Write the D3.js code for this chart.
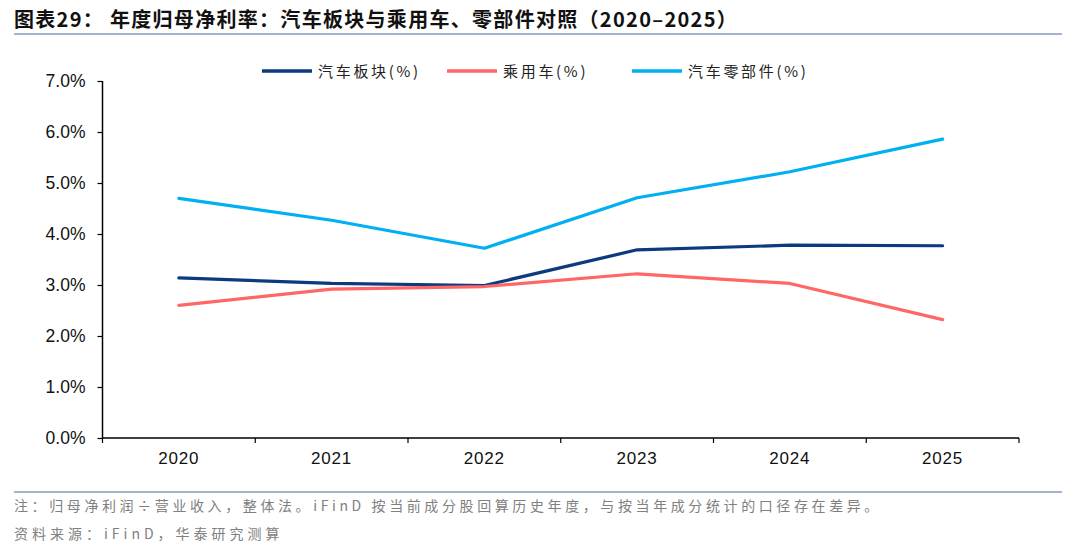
<!DOCTYPE html>
<html>
<head>
<meta charset="utf-8">
<script src="https://cdn.jsdelivr.net/npm/d3@7"></script>
<style>
  body { margin: 0; background: #fff; }
  svg { display: block; }
</style>
</head>
<body>
<div id="chart"></div>
<script>
// data
const years = ["2020", "2021", "2022", "2023", "2024", "2025"];
const autoSector = [3.14, 3.03, 2.99, 3.69, 3.78, 3.77];
const passengerCar = [2.60, 2.92, 2.97, 3.22, 3.03, 2.32];
const autoParts = [4.70, 4.27, 3.72, 4.71, 5.22, 5.86];
const yTicks = [0, 1, 2, 3, 4, 5, 6, 7];

const seriesNames = ["汽车板块(%)", "乘用车(%)", "汽车零部件(%)"];
const seriesColors = ["#0b3a7e", "#ff6666", "#00b0f0"];
const seriesValues = [autoSector, passengerCar, autoParts];

const titleText = "图表29：  年度归母净利率：汽车板块与乘用车、零部件对照（2020–2025）";
const noteText = "注：归母净利润÷营业收入，整体法。iFinD 按当前成分股回算历史年度，与按当年成分统计的口径存在差异。";
const sourceText = "资料来源：iFinD，华泰研究测算";

const W = 1080, H = 552;
const margin = { top: 81, right: 61, bottom: 114, left: 102.5 };
const width = W - margin.left - margin.right,
      height = H - margin.top - margin.bottom;

const cjk = "'Noto Sans CJK SC', 'Noto Sans', sans-serif";
const latin = "'Liberation Sans', Arial, sans-serif";

const svg = d3.select("#chart")
  .append("svg")
  .attr("width", W)
  .attr("height", H);

// title + rule lines
svg.append("text")
  .attr("x", 14)
  .attr("y", 27)
  .attr("font-family", cjk)
  .attr("font-weight", "bold")
  .attr("font-size", 20)
  .attr("letter-spacing", 1.3)
  .attr("fill", "#111")
  .text(titleText);

svg.append("line")
  .attr("x1", 14).attr("x2", 1062)
  .attr("y1", 34).attr("y2", 34)
  .attr("stroke", "#a3b5cf").attr("stroke-width", 2);

svg.append("line")
  .attr("x1", 14).attr("x2", 1062)
  .attr("y1", 492).attr("y2", 492)
  .attr("stroke", "#a3b5cf").attr("stroke-width", 2);

// footer
svg.append("text")
  .attr("x", 14).attr("y", 511)
  .attr("font-family", cjk)
  .attr("font-size", 14)
  .attr("letter-spacing", 3.6)
  .attr("fill", "#808080")
  .text(noteText);

svg.append("text")
  .attr("x", 14).attr("y", 539)
  .attr("font-family", cjk)
  .attr("font-size", 14)
  .attr("letter-spacing", 4)
  .attr("fill", "#808080")
  .text(sourceText);

const g = svg.append("g")
  .attr("transform", "translate(" + margin.left + "," + margin.top + ")");

const x = d3.scaleBand()
  .domain(years)
  .range([0, width]);

const y = d3.scaleLinear()
  .domain([0, 7])
  .range([height, 0]);

// y axis
const yAxis = g.append("g")
  .call(d3.axisLeft(y)
    .tickValues(yTicks)
    .tickSize(5)
    .tickPadding(12)
    .tickFormat((d) => d.toFixed(1) + "%"));
yAxis.select(".domain").attr("stroke", "#000").attr("stroke-width", 1.5)
  .attr("d", "M0," + height + "V0");
yAxis.selectAll(".tick line").attr("stroke", "#000").attr("stroke-width", 1.2);
yAxis.selectAll("text")
  .attr("font-family", latin)
  .attr("font-size", 17.5)
  .attr("fill", "#111");

// x axis, ticks on band edges
const xAxis = g.append("g")
  .attr("transform", "translate(0," + height + ")")
  .call(d3.axisBottom(x).tickSize(0).tickPadding(14));
xAxis.select(".domain").attr("stroke", "#000").attr("stroke-width", 1.5)
  .attr("d", "M0,0H" + width);
xAxis.selectAll("text")
  .attr("font-family", latin)
  .attr("font-size", 17)
  .attr("letter-spacing", 0.8)
  .attr("fill", "#111");

const edges = years.map((d) => x(d)).concat([x(years[years.length - 1]) + x.bandwidth()]);
xAxis.selectAll(".edge")
  .data(edges)
  .join("line")
  .attr("class", "edge")
  .attr("x1", (d) => d).attr("x2", (d) => d)
  .attr("y1", 0).attr("y2", 5)
  .attr("stroke", "#000").attr("stroke-width", 1.2);

// lines
const line = d3.line()
  .x((d, i) => x(years[i]) + x.bandwidth() / 2)
  .y((d) => y(d));

g.selectAll(".series")
  .data(seriesValues)
  .join("path")
  .attr("class", "series")
  .attr("fill", "none")
  .attr("stroke", (d, i) => seriesColors[i])
  .attr("stroke-width", 3.2)
  .attr("stroke-linejoin", "round")
  .attr("stroke-linecap", "round")
  .attr("d", line);

// legend
const legendX = [262, 447, 632];
const legend = svg.append("g");
legend.selectAll("line")
  .data(seriesNames)
  .join("line")
  .attr("x1", (d, i) => legendX[i])
  .attr("x2", (d, i) => legendX[i] + 50)
  .attr("y1", 71).attr("y2", 71)
  .attr("stroke", (d, i) => seriesColors[i])
  .attr("stroke-width", 3.5);
legend.selectAll("text")
  .data(seriesNames)
  .join("text")
  .attr("x", (d, i) => legendX[i] + 56)
  .attr("y", 76.5)
  .attr("font-family", cjk)
  .attr("font-size", 15)
  .attr("letter-spacing", 2.7)
  .attr("fill", "#222")
  .text((d) => d);
</script>
</body>
</html>
